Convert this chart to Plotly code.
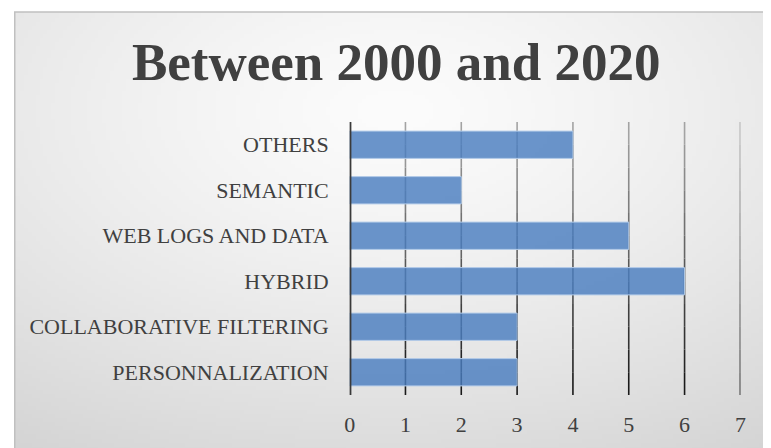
import base64, struct, zlib
import numpy as np
import plotly.graph_objects as go

categories = ["PERSONNALIZATION", "COLLABORATIVE FILTERING", "HYBRID",
              "WEB LOGS AND DATA", "SEMANTIC", "OTHERS"]
values = [3, 3, 6, 5, 2, 4]
x_ticks = [0, 1, 2, 3, 4, 5, 6, 7]
title_text = "Between 2000 and 2020"

OFF = 8  # default page body margin
W, H = 771 - OFF, 448 - OFF


def px(xr):
    return (xr - OFF) / W


def py(yr):
    return 1 - (yr - OFF) / H


def gradient_png(w, h):
    yy, xx = np.mgrid[0:h, 0:w].astype(float)
    cx, cy = w * 0.50, h * 0.22
    d = np.sqrt(((xx - cx) / w) ** 2 + ((yy - cy) / h) ** 2)
    d = d / d.max()
    v = 252 - 40 * np.clip(d, 0, 1) ** 1.3
    img = v.astype(np.uint8)
    raw = b"".join(b"\x00" + img[r].tobytes() for r in range(h))

    def chunk(t, data):
        c = struct.pack(">I", len(data)) + t + data
        return c + struct.pack(">I", zlib.crc32(t + data) & 0xffffffff)

    png = b"\x89PNG\r\n\x1a\n" + chunk(b"IHDR", struct.pack(">IIBBBBB", w, h, 8, 0, 0, 0, 0)) \
        + chunk(b"IDAT", zlib.compress(raw, 9)) + chunk(b"IEND", b"")
    return "data:image/png;base64," + base64.b64encode(png).decode()


fig = go.Figure(go.Bar(
    x=values, y=categories, orientation="h", width=0.6,
    marker=dict(color="rgba(74,126,192,0.82)", line=dict(color="#b3cbe8", width=1)),
    hoverinfo="x+y",
))

x0, y0 = px(8), py(12)
fig.add_layout_image(dict(source=gradient_png(193, 109), xref="paper", yref="paper",
                          x=x0, y=y0, sizex=1 - x0 + 0.01, sizey=y0 + 0.01, sizing="stretch",
                          xanchor="left", yanchor="top", layer="below"))
fig.add_shape(type="rect", xref="paper", yref="paper", x0=x0 + 0.001, y0=-0.01, x1=1.01, y1=y0,
              line=dict(color="#c0c0c0", width=1.5), layer="below")

ybot, ytop = py(395), py(122)

# gridlines with a vertical gradient (gray at top, dark at bottom)
nseg = 12
for t in x_ticks[1:]:
    for i in range(nseg):
        f = (i + 0.5) / nseg
        c = int(170 - 150 * f)
        fig.add_shape(type="line", xref="x", yref="paper", x0=t, x1=t,
                      y0=ytop - (ytop - ybot) * i / nseg,
                      y1=ytop - (ytop - ybot) * (i + 1) / nseg,
                      line=dict(color=f"rgb({c},{c},{c})", width=1.6), layer="below")

fig.update_layout(
    width=W, height=H, margin=dict(l=0, r=0, t=0, b=0),
    paper_bgcolor="white", plot_bgcolor="rgba(0,0,0,0)",
    showlegend=False, bargap=0.4,
    font=dict(family="Liberation Serif", color="#404040", size=22),
    annotations=[dict(text="<b>" + title_text + "</b>", xref="paper", yref="paper",
                      x=px(397), y=py(62), xanchor="center", yanchor="middle",
                      showarrow=False, font=dict(size=53, color="#404040",
                                                 family="Liberation Serif"))],
    xaxis=dict(domain=[px(349), px(746)], range=[0, 7], tickvals=x_ticks,
               showgrid=False, zeroline=False, showline=False, ticks="",
               ticklabelstandoff=14, tickfont=dict(size=22, color="#404040")),
    yaxis=dict(domain=[ybot, ytop], showgrid=False, ticks="",
               ticklabelstandoff=20, showline=False,
               tickfont=dict(size=22, color="#404040")),
)
fig.add_shape(type="line", xref="x", yref="paper", x0=0, x1=0,
              y0=ybot, y1=ytop, line=dict(color="#3a3a3a", width=3.5))

fig.write_html("out.html")
